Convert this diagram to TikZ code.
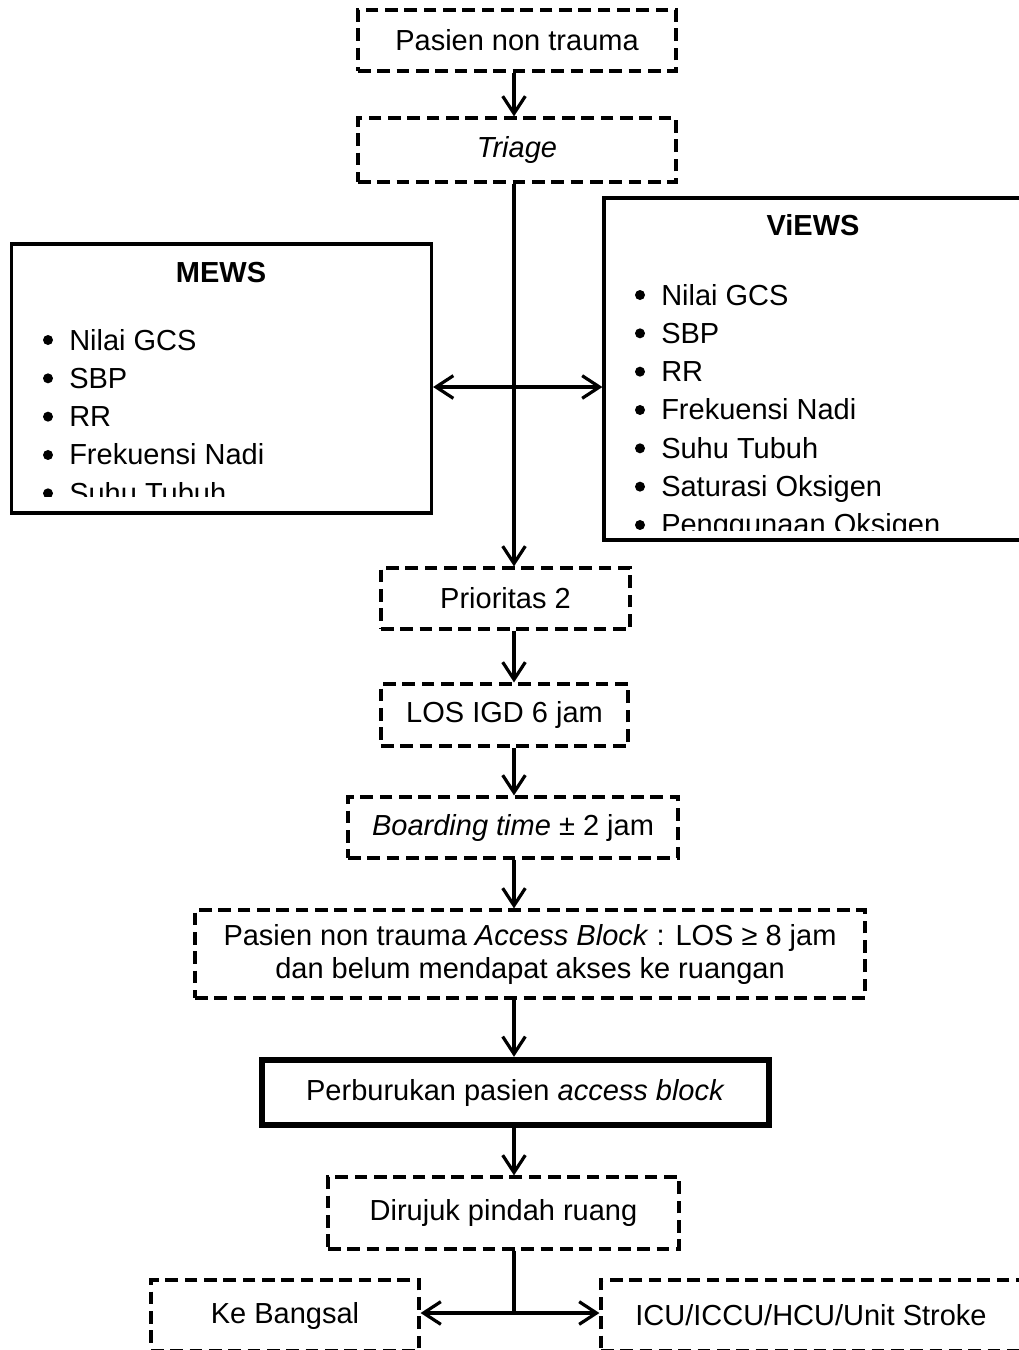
\documentclass[tikz,border=0pt]{standalone}
\usepackage{fontspec}
\setmainfont{Liberation Sans}
\usetikzlibrary{arrows.meta}
\newcommand\fs{\fontsize{21.75pt}{24.75pt}\selectfont}
\begin{document}
\begin{tikzpicture}[x=0.75pt,y=-0.75pt,
  every node/.style={font=\fs, inner sep=0pt},
  dbox/.style={draw, line width=2.4pt, dash pattern=on 9.5pt off 5pt, align=center},
  sbox/.style={draw, line width=2.4pt},
  tbox/.style={draw, line width=4.8pt, align=center},
  arr/.style={line width=2.4pt, -{Straight Barb[length=13pt,width=17pt]}},
  darr/.style={line width=2.4pt, {Straight Barb[length=13pt,width=17pt]}-{Straight Barb[length=13pt,width=17pt]}},
  listitem/.style={anchor=base west},
]
\useasboundingbox (0,0) rectangle (1019,1350);
\clip (0,0) rectangle (1019,1350);

% flow boxes
\node[dbox, minimum width=238.5pt, minimum height=45.75pt] (pasien) at (517,40.5) {Pasien non trauma};
\node[dbox, minimum width=238.5pt, minimum height=48pt] (triage) at (517,150) {\itshape Triage};
\node[sbox, minimum width=315pt, minimum height=201.75pt] (mews) at (221.5,378.5) {};
\node[sbox, minimum width=312.75pt, minimum height=256.5pt] (views) at (812.5,369) {};
\node[dbox, minimum width=186.75pt, minimum height=45.75pt] (prio) at (505.5,598.5) {Prioritas 2};
\node[dbox, minimum width=185.25pt, minimum height=46.5pt] (los) at (504.5,715) {LOS IGD 6 jam};
\node[dbox, minimum width=247.5pt, minimum height=45.75pt] (board) at (513,827.5) {\textit{Boarding time} ± 2 jam};
\node[dbox, minimum width=502.5pt, minimum height=66pt] (access) at (530,954) {Pasien non trauma \textit{Access Block} : LOS ≥ 8 jam\\dan belum mendapat akses ke ruangan};
\node[tbox, minimum width=380.25pt, minimum height=48.75pt] (perb) at (515.5,1092.5) {Perburukan pasien \textit{access block}};
\node[dbox, minimum width=263.25pt, minimum height=54pt] (dirujuk) at (503.5,1213) {Dirujuk pindah ruang};
\node[dbox, minimum width=201pt, minimum height=53.25pt] (bangsal) at (285,1315.5) {Ke Bangsal};
\node[dbox, minimum width=315pt, minimum height=53.25pt] (icu) at (811,1315.5) {ICU/ICCU/HCU/Unit Stroke};

% MEWS content
\node[anchor=base, font=\fs\bfseries] (mewst) at (221,282) {MEWS};
\begin{scope}
\clip (11,244) rectangle (432,496);
\foreach \t [count=\i] in {Nilai GCS,SBP,RR,Frekuensi Nadi,Suhu Tubuh}{
  \fill (48,{340+38.33*(\i-1)}) circle[radius=3.75pt];
  \node[listitem] (m\i) at (69,{350+38.33*(\i-1)}) {\t};
}
\end{scope}

% ViEWS content
\node[anchor=base, font=\fs\bfseries] (viewst) at (813,235) {ViEWS};
\begin{scope}
\clip (604,198) rectangle (1019,530);
\foreach \t [count=\i] in {Nilai GCS,SBP,RR,Frekuensi Nadi,Suhu Tubuh,Saturasi Oksigen,Penggunaan Oksigen}{
  \fill (640,{295+38.33*(\i-1)}) circle[radius=3.75pt];
  \node[listitem] (v\i) at (661,{305+38.33*(\i-1)}) {\t};
}
\end{scope}

% connectors
\coordinate (col) at (514,0);
\coordinate (jn) at (514,387);
\coordinate (jb) at (514,1313);
\draw[arr] (pasien.south -| col) -- (triage.north -| col);
\draw[arr] (triage.south -| col) -- (prio.north -| col);
\draw[darr] (mews.east |- jn) -- (views.west |- jn);
\draw[arr] (prio.south -| col) -- (los.north -| col);
\draw[arr] (los.south -| col) -- (board.north -| col);
\draw[arr] (board.south -| col) -- (access.north -| col);
\draw[arr] (access.south -| col) -- (perb.north -| col);
\draw[arr] (perb.south -| col) -- (dirujuk.north -| col);
\draw[line width=2.4pt] (dirujuk.south -| col) -- (jb);
\draw[darr] (bangsal.east |- jb) -- (icu.west |- jb);
\end{tikzpicture}
\end{document}
